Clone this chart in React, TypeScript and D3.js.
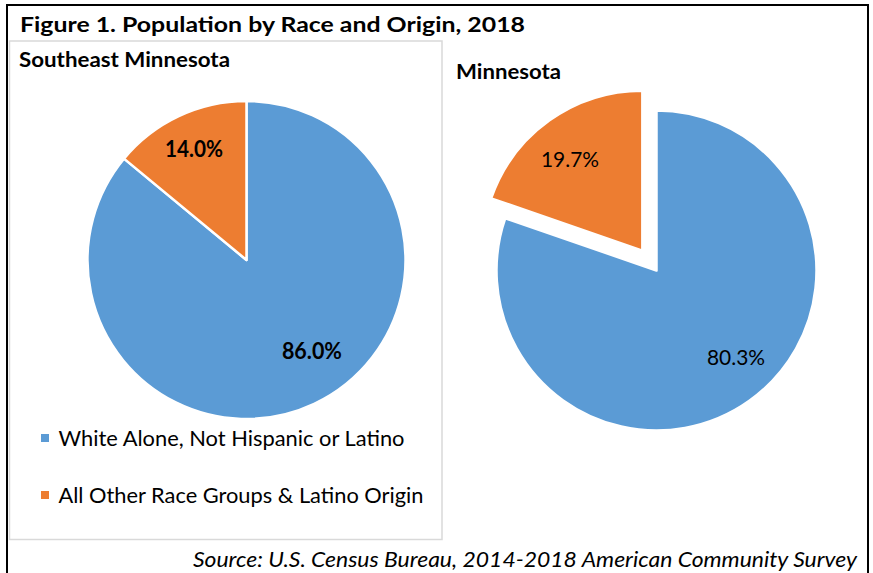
import React from "react";
import * as d3 from "d3";

const categories = ["White Alone, Not Hispanic or Latino", "All Other Race Groups & Latino Origin"];
const seMinnesota = [86.0, 14.0];
const minnesota = [80.3, 19.7];
const colors = ["#5B9BD5", "#ED7D31"];

const W = 873;
const H = 573;
const FONT = "Lato, 'Open Sans', sans-serif";

type PieSpec = {
  title: string;
  values: number[];
  cx: number;
  cy: number;
  r: number;
  explode: number[];
  labelPos: { ang: number; rf: number }[];
  bold: boolean;
  titleX: number;
  titleY: number;
  titleLen: number;
  labelLens: number[];
};

const pies: PieSpec[] = [
  {
    title: "Southeast Minnesota",
    values: seMinnesota,
    cx: 246.5,
    cy: 260,
    r: 159,
    explode: [0, 0],
    labelPos: [
      { ang: 144.3, rf: 0.705 },
      { ang: -25.3, rf: 0.772 },
    ],
    bold: true,
    titleX: 19,
    titleY: 67,
    titleLen: 211,
    labelLens: [60, 58],
  },
  {
    title: "Minnesota",
    values: minnesota,
    cx: 656.5,
    cy: 270.5,
    r: 160,
    explode: [0, 24.4],
    labelPos: [
      { ang: 137.6, rf: 0.737 },
      { ang: -38.4, rf: 0.728 },
    ],
    bold: false,
    titleX: 456,
    titleY: 79,
    titleLen: 105,
    labelLens: [58, 58],
  },
];

function Pie({ p }: { p: PieSpec }) {
  const arcs = d3
    .pie<number>()
    .sort(null)
    .value((d) => d)
    .startAngle(0)
    .endAngle(2 * Math.PI)(p.values);
  const arcGen = d3.arc<d3.PieArcDatum<number>>().innerRadius(0).outerRadius(p.r);
  return (
    <g>
      <text
        x={p.titleX}
        y={p.titleY}
        fontFamily={FONT}
        fontWeight={700}
        fontSize={20}
        textLength={p.titleLen}
        lengthAdjust="spacingAndGlyphs"
        fill="#000"
      >
        {p.title}
      </text>
      {arcs.map((a, i) => {
        const mid = (a.startAngle + a.endAngle) / 2;
        const ex = p.explode[i];
        const ox = p.cx + ex * Math.sin(mid);
        const oy = p.cy - ex * Math.cos(mid);
        const lp = p.labelPos[i];
        const la = (lp.ang * Math.PI) / 180;
        const lx = ox + lp.rf * p.r * Math.sin(la);
        const ly = oy - lp.rf * p.r * Math.cos(la);
        return (
          <g key={i}>
            <path
              d={arcGen(a) || ""}
              transform={`translate(${ox},${oy})`}
              fill={colors[i]}
              stroke="#fff"
              strokeWidth={2.5}
              strokeLinejoin="round"
            />
            <text
              x={lx}
              y={ly}
              dy="0.36em"
              textAnchor="middle"
              fontFamily={FONT}
              fontWeight={p.bold ? 700 : 400}
              fontSize={22}
              textLength={p.labelLens[i]}
              lengthAdjust="spacingAndGlyphs"
              fill="#000"
            >
              {p.values[i].toFixed(1) + "%"}
            </text>
          </g>
        );
      })}
    </g>
  );
}

export default function App() {
  const legendY = [438, 495];
  const legendLens = [346, 365];
  return (
    <div style={{ position: "absolute", left: 0, top: 0, width: W, height: H, background: "#fff" }}>
      <svg width={W} height={H} viewBox={`0 0 ${W} ${H}`} style={{ display: "block" }}>
        <rect x={0} y={0} width={W} height={H} fill="#fff" />
        <rect x={7} y={5} width={861} height={600} fill="none" stroke="#000" strokeWidth={2} />
        <text
          x={20}
          y={31.5}
          fontFamily={FONT}
          fontWeight={700}
          fontSize={21}
          textLength={505}
          lengthAdjust="spacingAndGlyphs"
          fill="#000"
        >
          Figure 1. Population by Race and Origin, 2018
        </text>
        <rect x={9.5} y={41} width={432.5} height={498.5} fill="none" stroke="#d9d9d9" strokeWidth={1.5} />
        {pies.map((p, i) => (
          <Pie key={i} p={p} />
        ))}
        {categories.map((c, i) => (
          <g key={c}>
            <rect x={41} y={legendY[i] - 4} width={8} height={8} fill={colors[i]} />
            <text
              x={58.5}
              y={legendY[i]}
              dy="0.36em"
              fontFamily={FONT}
              fontSize={21}
              textLength={legendLens[i]}
              lengthAdjust="spacingAndGlyphs"
              fill="#000"
            >
              {c}
            </text>
          </g>
        ))}
        <text
          x={857}
          y={567}
          textAnchor="end"
          fontFamily={FONT}
          fontStyle="italic"
          fontSize={21}
          textLength={664}
          lengthAdjust="spacingAndGlyphs"
          fill="#000"
        >
          Source: U.S. Census Bureau, 2014-2018 American Community Survey
        </text>
      </svg>
    </div>
  );
}
